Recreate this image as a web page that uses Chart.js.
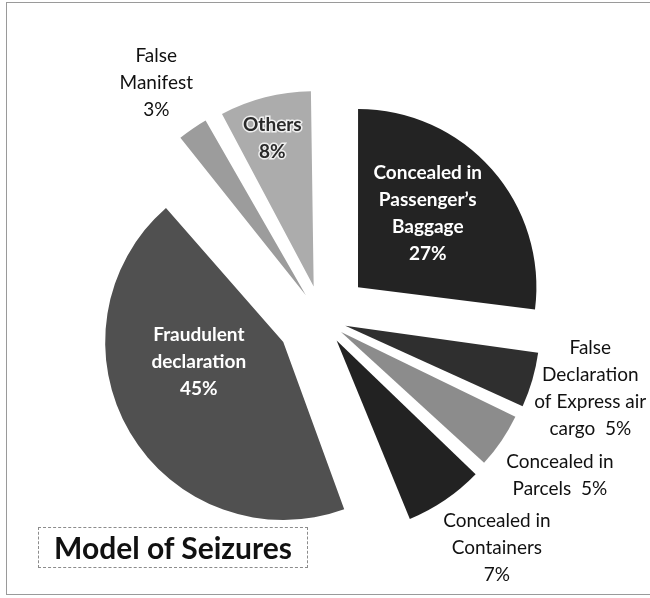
<!DOCTYPE html>
<html>
<head>
<meta charset="utf-8">
<script src="https://cdn.jsdelivr.net/npm/chart.js@4.4.1/dist/chart.umd.min.js"></script>
<style>
  html, body { margin: 0; padding: 0; background: #fff; }
  #wrap { position: relative; width: 650px; height: 598px; overflow: hidden; }
  canvas { position: absolute; left: 0; top: 0; }
  #frame {
    position: absolute; left: 6px; top: 2px; width: 660px; height: 591px;
    border-left: 1px solid #9a9a9a; border-top: 1px solid #9a9a9a; border-bottom: 1px solid #9a9a9a;
    pointer-events: none;
  }
  #title {
    position: absolute; left: 38px; top: 527px; width: 270px; height: 41px;
    border: 1px dashed #8c8c8c; box-sizing: border-box;
    font-family: Lato, "DejaVu Sans", sans-serif; font-weight: bold; font-size: 30px; line-height: 38px;
    text-align: center; color: #111;
  }
</style>
</head>
<body>
<div id="wrap">
  <canvas id="bigSlice" width="650" height="598"></canvas>
  <canvas id="myChart" width="650" height="598"></canvas>
  <div id="frame"></div>
  <div id="title">Model of Seizures</div>
</div>
<script>
// slices clockwise from 12 o'clock
const categories = ["Concealed in Passenger's Baggage", 'False Declaration of Express air cargo',
  'Concealed in Parcels', 'Concealed in Containers', 'Fraudulent declaration', 'False Manifest', 'Others'];
const shares = [27, 5, 5, 7, 45, 3, 8];
const labelLines = [
  ['Concealed in', 'Passenger\u2019s', 'Baggage'],
  ['False', 'Declaration', 'of Express air', 'cargo'],
  ['Concealed in', 'Parcels'],
  ['Concealed in', 'Containers'],
  ['Fraudulent', 'declaration'],
  ['False', 'Manifest'],
  ['Others']
];

// styling
const sliceColors = ['#232323', '#2f2f2f', '#8c8c8c', '#222222', '#505050', '#9c9c9c', '#acacac'];
const explode = [192, 97, 92, 104, 180, 115, 134];
const BIG = 4; // the 45% slice sits on its own canvas with a smaller radius
const pctInline = [false, true, true, false, false, false, false];
const labelStyle = [
  { dist: 101, dx: -6, dy: -7, inside: true, color: '#fff' },
  { dist: 252, dx: 3, dy: -8, inside: false, color: '#111' },
  { dist: 261, dx: 3, dy: -3, inside: false, color: '#111' },
  { dist: 262, dx: 13, dy: -9, inside: false, color: '#111' },
  { dist: 83, dx: -13, dy: -22, inside: true, color: '#fff' },
  { dist: 259, dx: -4, dy: 2, inside: false, color: '#111' },
  { dist: 154, dx: -3, dy: 1, inside: true, color: '#2a2a2a', halo: true }
];

const sliceLabels = {
  id: 'sliceLabels',
  afterDatasetsDraw(chart) {
    const ctx = chart.ctx;
    const meta = chart.getDatasetMeta(0);
    meta.data.forEach((arc, i) => {
      const p = arc.getProps(['x', 'y', 'startAngle', 'endAngle'], true);
      const mid = (p.startAngle + p.endAngle) / 2;
      const st = labelStyle[i];
      const r = explode[i] / 4 + st.dist;
      const cx = p.x + Math.cos(mid) * r + st.dx;
      const cy = p.y + Math.sin(mid) * r + st.dy;
      const lines = labelLines[i].slice();
      const pct = shares[i] + '%';
      if (pctInline[i]) lines[lines.length - 1] += '  ' + pct;
      else lines.push(pct);
      const lh = 27;
      ctx.save();
      ctx.textAlign = 'center';
      ctx.textBaseline = 'middle';
      ctx.font = (st.inside ? 'bold ' : '') + '19px Lato, "DejaVu Sans", sans-serif';
      lines.forEach((t, j) => {
        const y = cy + (j - (lines.length - 1) / 2) * lh;
        if (st.halo) {
          ctx.strokeStyle = 'rgba(255,255,255,0.8)';
          ctx.lineWidth = 3;
          ctx.strokeText(t, cx, y);
        }
        ctx.fillStyle = st.color;
        ctx.fillText(t, cx, y);
      });
      ctx.restore();
    });
  }
};

function pieChart(canvasId, colors, radius, extraPlugins) {
  return new Chart(document.getElementById(canvasId), {
    type: 'pie',
    data: {
      labels: categories,
      datasets: [{
        data: shares,
        backgroundColor: colors,
        borderWidth: 0,
        offset: explode,
        hoverOffset: 0,
        radius: radius
      }]
    },
    options: {
      responsive: false,
      animation: false,
      layout: { padding: { left: 0, right: 6, top: 40, bottom: 0 } },
      plugins: {
        legend: { display: false },
        tooltip: { enabled: false }
      }
    },
    plugins: extraPlugins
  });
}

const bigColors = sliceColors.map((c, i) => i === BIG ? c : 'rgba(0,0,0,0)');
const restColors = sliceColors.map((c, i) => i === BIG ? 'rgba(0,0,0,0)' : c);

let chartBig = pieChart('bigSlice', bigColors, 147, []);
let chart = pieChart('myChart', restColors, 178, [sliceLabels]);
</script>
</body>
</html>
